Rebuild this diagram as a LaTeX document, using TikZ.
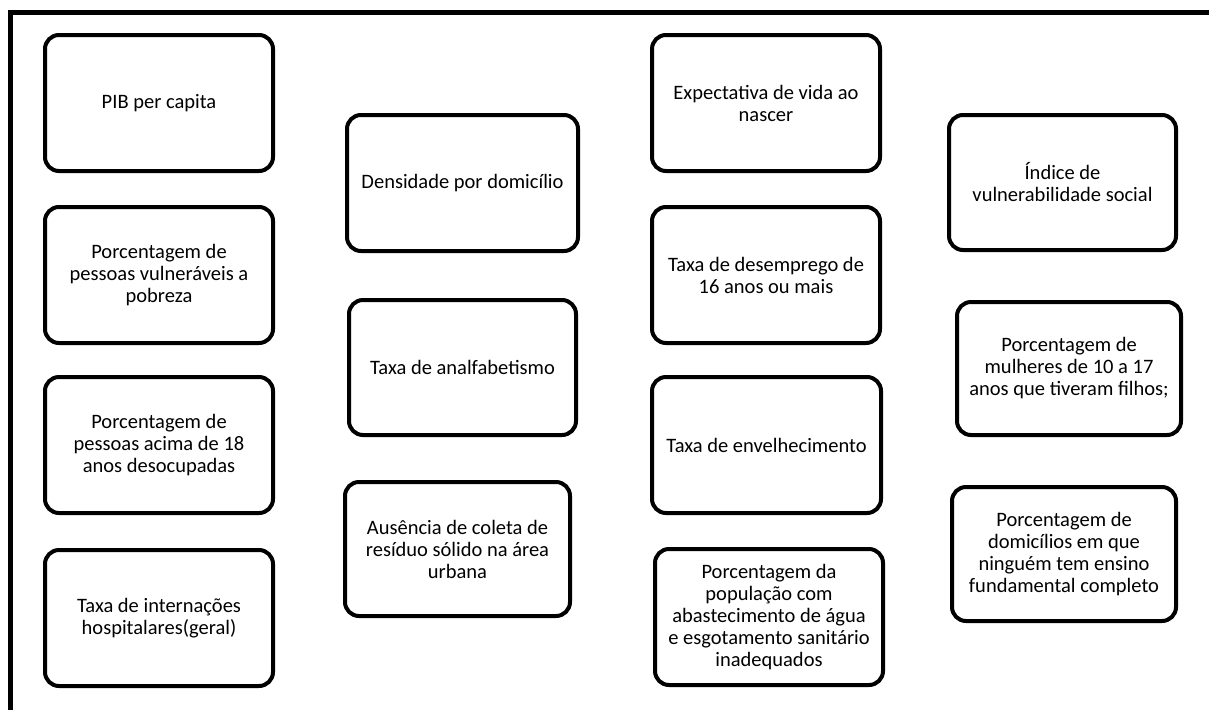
\documentclass[tikz,border=0pt]{standalone}
\usepackage{fontspec}
\setmainfont{Carlito}
\begin{document}
\begin{tikzpicture}[x=1pt,y=-1pt,
  box/.style={draw=black, line width=4pt, rounded corners=14pt, fill=white,
    align=center, inner sep=2pt, font=\fontsize{20.5}{22}\selectfont},
  frameline/.style={line width=5pt, black}]
\useasboundingbox (0,0) rectangle (1209,710);
% frame edges (top and left)
\coordinate (fTL) at (10,12.5);
\coordinate (fTR) at (1209,12.5);
\coordinate (fBL) at (10,710);
\draw[frameline] (fTR) -- (fTL) -- (fBL);
% column 1
\node[box, minimum width=228, minimum height=136] (pib) at (159,103) {PIB per capita};
\node[box, minimum width=228, minimum height=136] (vuln) at (159,275) {Porcentagem de\\pessoas vulneráveis a\\pobreza};
\node[box, minimum width=228, minimum height=136] (desoc) at (159,445) {Porcentagem de\\pessoas acima de 18\\anos desocupadas};
\node[box, minimum width=228, minimum height=136] (intern) at (159,618) {Taxa de internações\\hospitalares(geral)};
% column 2
\node[box, minimum width=231, minimum height=136] (dens) at (462.5,183) {Densidade por domicílio};
\node[box, minimum width=227, minimum height=135] (analf) at (462.5,367.5) {Taxa de analfabetismo};
\node[box, minimum width=225, minimum height=134] (coleta) at (457.5,549) {Ausência de coleta de\\resíduo sólido na área\\urbana};
% column 3
\node[box, minimum width=228, minimum height=136] (vida) at (766,103) {Expectativa de vida ao\\nascer};
\node[box, minimum width=228, minimum height=136] (desemp) at (766,275) {Taxa de desemprego de\\16 anos ou mais};
\node[box, minimum width=229, minimum height=136] (envelh) at (766.5,445) {Taxa de envelhecimento};
\node[box, minimum width=228, minimum height=136] (agua) at (769,617) {Porcentagem da\\população com\\abastecimento de água\\e esgotamento sanitário\\inadequados};
% column 4
\node[box, minimum width=227, minimum height=135] (ivs) at (1062.5,182.5) {Índice de\\vulnerabilidade social};
\node[box, minimum width=224, minimum height=133] (mulh) at (1069,368.5) {Porcentagem de\\mulheres de 10 a 17\\anos que tiveram filhos;};
\node[box, minimum width=224, minimum height=134] (domic) at (1064,554) {Porcentagem de\\domicílios em que\\ninguém tem ensino\\fundamental completo};
\end{tikzpicture}
\end{document}
